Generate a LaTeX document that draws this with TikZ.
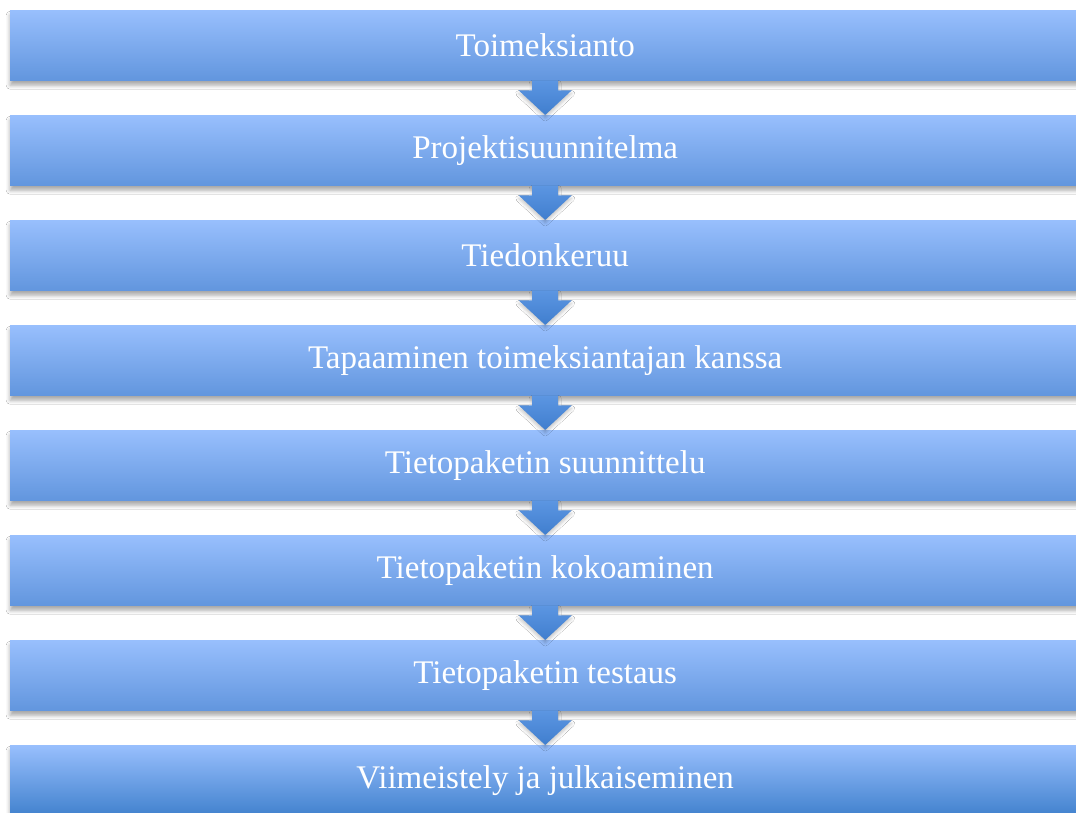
\documentclass[tikz,border=0pt]{standalone}
\usepackage{fontspec}
\setmainfont{Liberation Serif}
\usetikzlibrary{shadows.blur,calc}
\definecolor{bartop}{RGB}{152,191,253}
\definecolor{barbot}{RGB}{98,150,222}
\definecolor{lastbot}{RGB}{66,130,206}
\definecolor{arrtop}{RGB}{92,150,226}
\definecolor{arrbot}{RGB}{64,126,206}
\tikzset{
  stage/.style={anchor=north west, minimum width=1070pt, minimum height=70pt,
    inner sep=0pt, top color=bartop, bottom color=barbot, text=white,
    font=\fontsize{33}{38}\selectfont,
    blur shadow={shadow xshift=0pt, shadow yshift=-5pt, shadow blur radius=4pt, shadow opacity=35}},
  flowarrow/.style={top color=arrtop, bottom color=arrbot,
    blur shadow={shadow xshift=0pt, shadow yshift=-3pt, shadow blur radius=3pt, shadow opacity=22}}
}
\begin{document}
\begin{tikzpicture}[x=1pt,y=-1pt]
\clip (0,0) rectangle (1076,813);
\fill[white] (0,0) rectangle (1076,813);
\node[stage] (b1) at (10,10) {Toimeksianto};
\node[stage] (b2) at (10,115) {Projektisuunnitelma};
\node[stage] (b3) at (10,220) {Tiedonkeruu};
\node[stage] (b4) at (10,325) {Tapaaminen toimeksiantajan kanssa};
\node[stage] (b5) at (10,430) {Tietopaketin suunnittelu};
\node[stage] (b6) at (10,535) {Tietopaketin kokoaminen};
\node[stage] (b7) at (10,640) {Tietopaketin testaus};
\node[stage, bottom color=lastbot] (b8) at (10,745) {Viimeistely ja julkaiseminen};
\foreach \a/\b in {b1/b2,b2/b3,b3/b4,b4/b5,b5/b6,b6/b7,b7/b8}{
  \path[flowarrow] let \p1=(\a.south), \p2=(\b.north) in
    (\x1-13pt,\y1) -- (\x1+13pt,\y1) -- (\x1+13pt,\y1-10pt) -- (\x1+26.5pt,\y1-10pt)
    -- (\x1,\y2) -- (\x1-26.5pt,\y1-10pt) -- (\x1-13pt,\y1-10pt) -- cycle;
}
\end{tikzpicture}
\end{document}
